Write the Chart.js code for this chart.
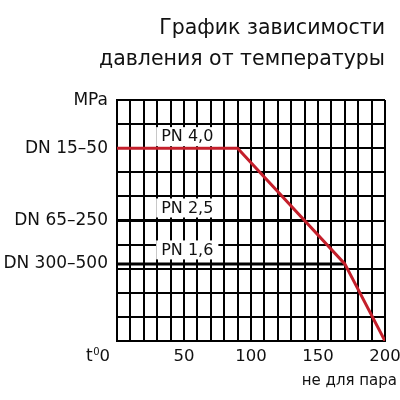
<!DOCTYPE html>
<html>
<head>
<meta charset="utf-8">
<script src="https://cdn.jsdelivr.net/npm/chart.js@4.4.1/dist/chart.umd.min.js"></script>
<style>
  html, body { margin: 0; padding: 0; background: #fff; }
  #wrap { width: 400px; height: 400px; }
</style>
</head>
<body>
<div id="wrap"><canvas id="pressureChart" width="400" height="400"></canvas></div>
<script>
// values
const titleLines = ['График зависимости', 'давления от температуры'];

const pn40Temp = [0, 90, 170, 200];
const pn40Press = [4.0, 4.0, 1.6, 0];
const pn25Temp = [0, 140];
const pn25Press = [2.5, 2.5];
const pn16Temp = [0, 170];
const pn16Press = [1.6, 1.6];

const seriesLabels = ['PN 4,0', 'PN 2,5', 'PN 1,6'];
const seriesLabelPos = [[33, 4.25], [33, 2.77], [33, 1.9]]; // temp, pressure where the label sits

const dnLabels = ['DN 15–50', 'DN 65–250', 'DN 300–500'];
const dnValues = [4.0, 2.5, 1.6];

const xTickValues = [50, 100, 150, 200];
const xNote = 'не для пара';
const yUnit = 'MPa';

const FONT = '"DejaVu Sans", "Liberation Sans", sans-serif';

function toPoints(xs, ys) {
    return xs.map((x, i) => ({ x: x, y: ys[i] }));
}

// draws the title, axis texts and the boxed PN labels
const textPlugin = {
    id: 'textPlugin',
    afterDatasetsDraw(chart) {
        const ctx = chart.ctx;
        const xs = chart.scales.x;
        const ys = chart.scales.y;
        ctx.save();
        ctx.font = '16px ' + FONT;
        ctx.textBaseline = 'middle';
        ctx.textAlign = 'left';
        seriesLabels.forEach((lbl, i) => {
            const px = xs.getPixelForValue(seriesLabelPos[i][0]);
            const py = ys.getPixelForValue(seriesLabelPos[i][1]);
            const w = ctx.measureText(lbl).width;
            ctx.fillStyle = '#fff';
            ctx.fillRect(px - 5, py - 9, w + 10, 19);
            ctx.fillStyle = '#111';
            ctx.fillText(lbl, px, py + 1);
        });
        ctx.restore();
    },
    afterDraw(chart) {
        const ctx = chart.ctx;
        const xs = chart.scales.x;
        const ys = chart.scales.y;
        const area = chart.chartArea;
        ctx.save();
        ctx.fillStyle = '#111';

        // title
        ctx.font = '20.5px ' + FONT;
        ctx.textAlign = 'right';
        ctx.textBaseline = 'alphabetic';
        ctx.fillText(titleLines[0], 385, 34);
        ctx.fillText(titleLines[1], 385, 65);

        // y labels
        ctx.font = '17px ' + FONT;
        ctx.textBaseline = 'middle';
        ctx.textAlign = 'right';
        ctx.fillText(yUnit, area.left - 9, ys.getPixelForValue(ys.max) + 1);
        dnLabels.forEach((lbl, i) => {
            ctx.fillText(lbl, area.left - 9, ys.getPixelForValue(dnValues[i]));
        });

        // x labels
        const ty = area.bottom + 16;
        ctx.font = '16.5px ' + FONT;
        ctx.textAlign = 'center';
        xTickValues.forEach(v => {
            ctx.fillText(String(v), xs.getPixelForValue(v), ty);
        });
        // t⁰0 at the origin
        ctx.textAlign = 'right';
        let rx = area.left - 7;
        ctx.fillText('0', rx, ty);
        rx -= ctx.measureText('0').width;
        ctx.font = '10px ' + FONT;
        ctx.fillText('0', rx, ty - 5);
        rx -= ctx.measureText('0').width + 0.5;
        ctx.font = '17px ' + FONT;
        ctx.fillText('t', rx, ty);

        ctx.font = '15px ' + FONT;
        ctx.textAlign = 'right';
        ctx.fillText(xNote, 397, area.bottom + 40);
        ctx.restore();
    }
};

const ctxPressure = document.getElementById('pressureChart').getContext('2d');
const pressureChart = new Chart(ctxPressure, {
    type: 'line',
    data: {
        datasets: [
            {
                label: seriesLabels[0],
                data: toPoints(pn40Temp, pn40Press),
                borderColor: '#c41f2b',
                borderWidth: 3,
                order: 0
            },
            {
                label: seriesLabels[1],
                data: toPoints(pn25Temp, pn25Press),
                borderColor: '#000',
                borderWidth: 3,
                order: 1
            },
            {
                label: seriesLabels[2],
                data: toPoints(pn16Temp, pn16Press),
                borderColor: '#000',
                borderWidth: 3,
                order: 2
            }
        ]
    },
    options: {
        responsive: false,
        animation: false,
        layout: { padding: { left: 117, right: 15, top: 100, bottom: 59 } },
        elements: {
            point: { radius: 0 },
            line: { tension: 0, borderCapStyle: 'butt' }
        },
        plugins: {
            legend: { display: false },
            tooltip: { enabled: false }
        },
        scales: {
            x: {
                type: 'linear',
                min: 0,
                max: 200,
                ticks: { display: false, stepSize: 10 },
                grid: { color: '#000', lineWidth: 2, drawTicks: false },
                border: { color: '#000', width: 2 }
            },
            y: {
                min: 0,
                max: 5,
                ticks: { display: false, stepSize: 0.5 },
                grid: { color: '#000', lineWidth: 2, drawTicks: false },
                border: { color: '#000', width: 2 }
            }
        }
    },
    plugins: [textPlugin]
});
</script>
</body>
</html>
